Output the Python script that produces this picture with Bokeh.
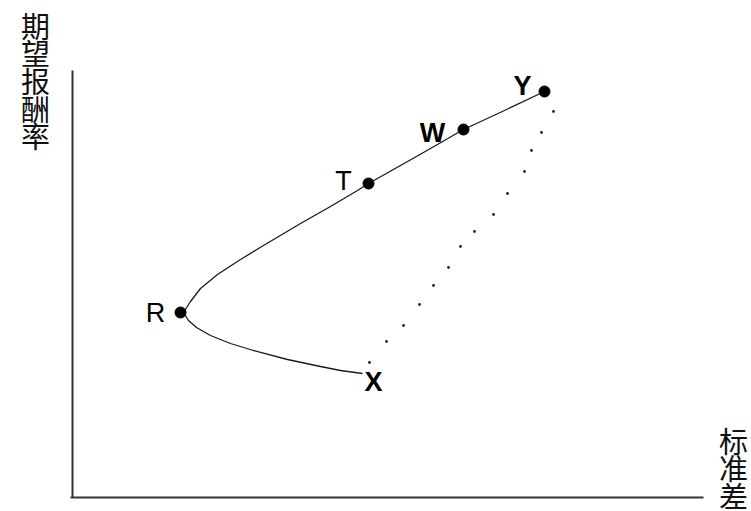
from bokeh.plotting import figure
from bokeh.models import Range1d, ColumnDataSource
from bokeh.core.properties import value
from bokeh.embed import file_html
from bokeh.resources import INLINE

# ---- data (standard deviation, expected return) ----
frontier_sigma = [14.5, 13.4, 12.4, 10.75, 9.05, 7.9, 6.9, 6.2, 5.8, 5.55,
                  5.9, 6.4, 7.25, 8.4, 9.55, 11.4, 12.9, 14.25, 14.8,
                  17.2, 19.55, 21.6, 23.6]
frontier_return = [6.2, 6.35, 6.55, 6.9, 7.35, 7.7, 8.1, 8.5, 8.85, 9.25,
                   9.8, 10.45, 11.15, 11.9, 12.6, 13.7, 14.55, 15.35, 15.7,
                   17.05, 18.4, 19.35, 20.3]

yx_sigma = [24.05, 23.45, 22.95, 22.6, 21.75, 21.05, 20.1, 19.4, 18.8,
            18.05, 17.35, 16.55, 15.7, 14.85]
yx_return = [19.3, 18.25, 17.35, 16.3, 15.2, 14.15, 13.3, 12.55, 11.5,
             10.6, 9.65, 8.6, 7.8, 6.75]

point_names = ["R", "T", "W", "Y"]
point_sigma = [5.4, 14.8, 19.55, 23.6]
point_return = [9.25, 15.7, 18.4, 20.3]

label_names = ["R", "T", "W", "Y", "X"]
label_sigma = [5.4, 14.8, 19.55, 23.6, 14.5]
label_return = [9.25, 15.7, 18.4, 20.3, 6.2]

axis_sigma_max = 31.55
axis_return_max = 21.35

y_title = "期\n望\n报\n酬\n率"
x_title = "标\n准\n差"

# ---- styling ----
label_dx = [-25, -25, -31, -22, 11]
label_dy = [0, -3, 3, -6, 8]
label_weight = ["normal", "normal", "bold", "bold", "bold"]

p = figure(width=751, height=511, output_backend="svg", toolbar_location=None,
           x_range=Range1d(-3.6, 33.95), y_range=Range1d(-0.7, 24.85),
           x_axis_location=None, y_axis_location=None, min_border=0,
           tools="")
p.grid.visible = False
p.outline_line_color = None
p.background_fill_color = "white"
p.border_fill_color = "white"

# axes drawn as lines from the origin
p.segment(x0=[0, -0.1], y0=[0, 0], x1=[0, axis_sigma_max], y1=[axis_return_max, 0],
          line_color="#333333", line_width=2)

# frontier curve
p.line(frontier_sigma, frontier_return, line_color="#1a1a1a", line_width=1.3)

# dotted Y-X combination curve
p.scatter(yx_sigma, yx_return, size=2.8, marker="circle",
          fill_color="#222222", line_color=None)

# portfolio markers
p.scatter(point_sigma, point_return, size=11, marker="circle",
          fill_color="black", line_color="black")

src = ColumnDataSource(dict(x=label_sigma, y=label_return, t=label_names,
                            dx=label_dx, dy=label_dy, w=label_weight))
p.text(x="x", y="y", text="t", x_offset="dx", y_offset="dy",
       text_font_style="w", source=src,
       text_font=value("Liberation Sans"), text_font_size="27px",
       text_align="center", text_baseline="middle", text_color="black")

# axis titles (stacked vertical characters)
p.text(x=[-1.85], y=[24.7], text=[y_title], text_font=value("Noto Sans CJK SC"),
       text_font_size="29px", text_align="center", text_baseline="top",
       text_line_height=0.66, text_color="#111111")
p.text(x=[33.05], y=[3.95], text=[x_title], text_font=value("Noto Sans CJK SC"),
       text_font_size="29px", text_align="center", text_baseline="top",
       text_line_height=0.66, text_color="#111111")

open("out.html", "w").write(file_html(p, INLINE))
